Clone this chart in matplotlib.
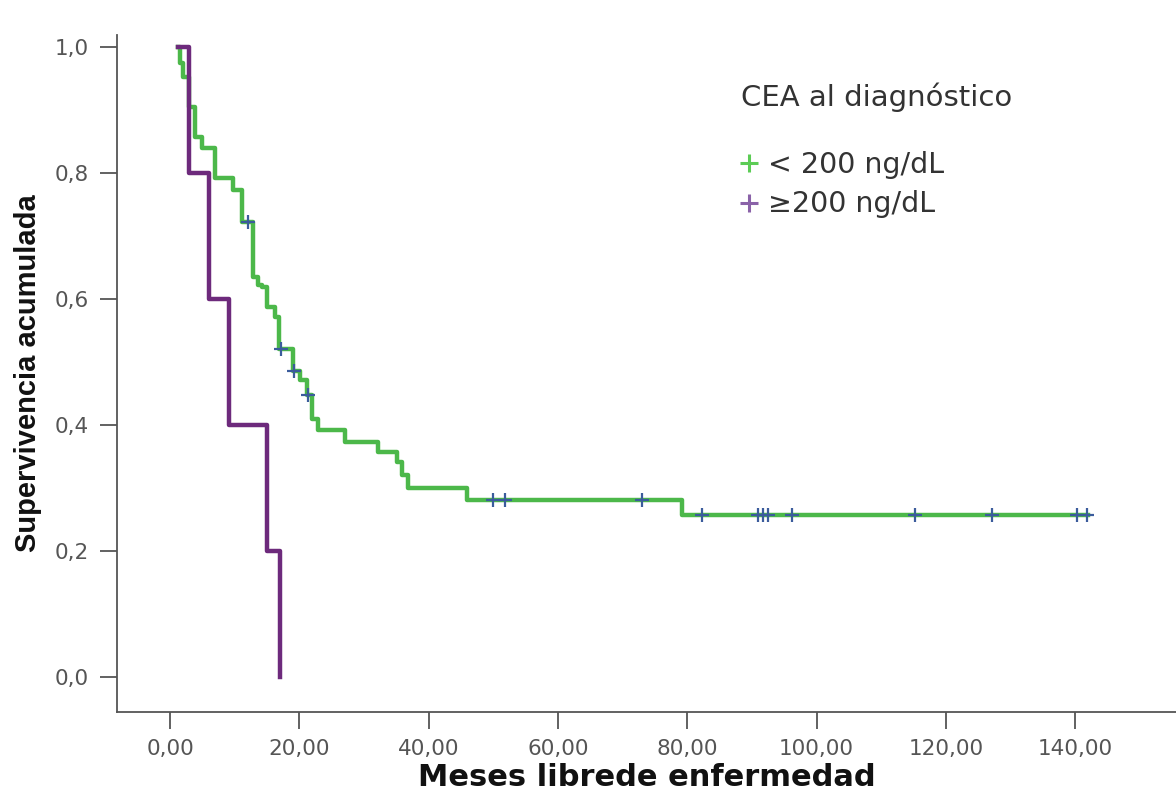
import numpy as np
import matplotlib
matplotlib.use("Agg")
import matplotlib.pyplot as plt
from matplotlib.lines import Line2D

# Kaplan-Meier steps (months, cumulative survival)
low_times = [1.2, 1.5, 2.0, 2.9, 3.9, 4.9, 7.0, 9.7, 11.1, 12.8, 13.6, 14.2,
             15.0, 16.2, 16.9, 19.0, 20.1, 21.2, 22.0, 22.9, 27.1, 32.2,
             35.1, 35.9, 36.8, 45.9, 79.2, 142.0]
low_surv = [1.0, 0.975, 0.952, 0.905, 0.857, 0.840, 0.792, 0.773, 0.722,
            0.635, 0.622, 0.619, 0.587, 0.571, 0.521, 0.486, 0.471, 0.448,
            0.410, 0.392, 0.373, 0.357, 0.341, 0.320, 0.300, 0.281, 0.257,
            0.257]
low_cens_t = [12.1, 17.2, 19.1, 21.3, 50.0, 51.8, 73.0, 82.3, 90.9, 91.7,
              92.5, 96.2, 115.2, 127.1, 140.3, 141.8]
low_cens_s = [0.722, 0.521, 0.486, 0.448, 0.281, 0.281, 0.281, 0.257, 0.257,
              0.257, 0.257, 0.257, 0.257, 0.257, 0.257, 0.257]

high_times = [1.2, 2.9, 6.0, 9.1, 15.0, 17.0]
high_surv = [1.0, 0.8, 0.6, 0.4, 0.2, 0.0]

x_ticks = [0, 20, 40, 60, 80, 100, 120, 140]
x_labels = ["0,00", "20,00", "40,00", "60,00", "80,00", "100,00", "120,00", "140,00"]
y_ticks = [0.0, 0.2, 0.4, 0.6, 0.8, 1.0]
y_labels = ["0,0", "0,2", "0,4", "0,6", "0,8", "1,0"]

green = "#4cb84a"
purple = "#6d2a7c"
cens_col = "#3b5c9c"
axis_col = "#555555"

fig = plt.figure(figsize=(11.76, 7.93), dpi=100)
ax = fig.add_axes([0.0995, 0.102, 0.9005, 0.854])

ax.step(high_times, high_surv, where="post", color=purple, lw=3.2, zorder=3)
ax.step(low_times, low_surv, where="post", color=green, lw=3.2, zorder=2)
ax.plot(low_cens_t, low_cens_s, linestyle="none", marker="+", markersize=10,
        mew=1.6, color=cens_col, zorder=4)

ax.set_xlim(-8.2, 155.6)
ax.set_ylim(-0.056, 1.019)
ax.set_xticks(x_ticks)
ax.set_xticklabels(x_labels)
ax.set_yticks(y_ticks)
ax.set_yticklabels(y_labels)

for s in ["top", "right"]:
    ax.spines[s].set_visible(False)
for s in ["left", "bottom"]:
    ax.spines[s].set_color(axis_col)
    ax.spines[s].set_linewidth(1.3)

ax.tick_params(axis="both", direction="out", length=12, width=1.3,
               color=axis_col, labelcolor="#555555", labelsize=15.5,
               labelfontfamily="DejaVu Sans")
ax.tick_params(axis="x", pad=7)
ax.tick_params(axis="y", pad=8)

ax.set_xlabel("Meses librede enfermedad", fontsize=22, fontweight="bold",
              family="DejaVu Sans", color="#111111", labelpad=3)
ax.set_ylabel("Supervivencia acumulada", fontsize=21, fontweight="bold",
              family=["Liberation Sans", "DejaVu Sans"],
              color="#111111", labelpad=9)

handles = [Line2D([], [], linestyle="none", marker="+", markersize=13, mew=2.2,
                  color="#5ccc55"),
           Line2D([], [], linestyle="none", marker="+", markersize=13, mew=2.2,
                  color="#8a62a8")]
leg = fig.legend(handles, ["< 200 ng/dL", "\u2265200 ng/dL"],
                 title="CEA al diagn\u00f3stico", loc="upper left",
                 bbox_to_anchor=(0.608, 0.928), frameon=False,
                 prop={"family": "DejaVu Sans", "size": 20.5},
                 title_fontproperties={"family": "DejaVu Sans", "size": 21},
                 alignment="left", handlelength=0.6, handletextpad=0.35,
                 labelspacing=0.4)
leg._legend_box.sep = 28
for t in leg.get_texts():
    t.set_color("#333333")
leg.get_title().set_color("#333333")

fig.savefig("out.png", dpi=100, facecolor="white")
